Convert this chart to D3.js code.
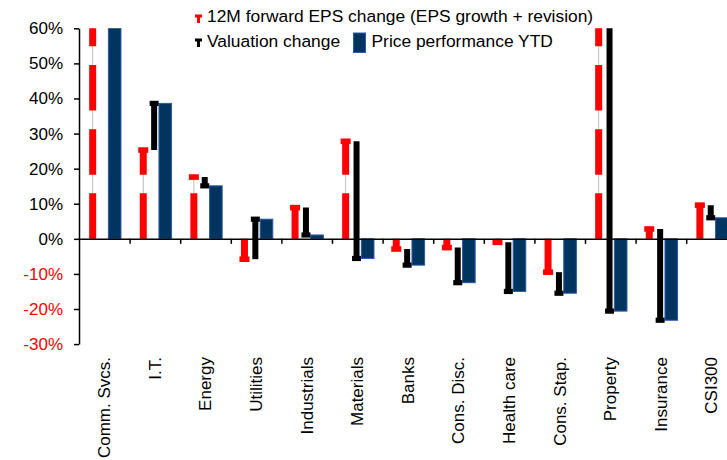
<!DOCTYPE html>
<html>
<head>
<meta charset="utf-8">
<script src="https://cdn.jsdelivr.net/npm/d3@7"></script>
<style>
  body { margin: 0; background: #fff; }
  text { font-family: "Liberation Sans", Arial, sans-serif; }
</style>
</head>
<body>
<div id="my_dataviz"></div>
<script>
// sector data, in %
var categories = ["Comm. Svcs.", "I.T.", "Energy", "Utilities", "Industrials", "Materials", "Banks",
                  "Cons. Disc.", "Health care", "Cons. Stap.", "Property", "Insurance", "CSI300"];
var epsChange = [75, 25.3, 17.6, -5.8, 8.9, 27.8, -2.9, -2.5, -1.0, -9.5, 82, 2.8, 9.6];
var valuationChange = [-7, 13.3, -2.5, 11.4, -7.8, -33.4, -4.6, -10.0, -14.0, -6.0, -102.6, -26.0, -3.6];
var pricePerf = [68, 38.6, 15.1, 5.6, 1.1, -5.6, -7.5, -12.5, -15.0, -15.5, -20.6, -23.2, 6.0];
var yTicks = [-30, -20, -10, 0, 10, 20, 30, 40, 50, 60];

var W = 727, H = 460;
var left = 79, bandW = 50.6;

var svg = d3.select("#my_dataviz")
  .append("svg")
  .attr("width", W)
  .attr("height", H);

// scales
var y = d3.scaleLinear().domain([-30, 60]).range([344.1, 28.3]);
var x = d3.scaleBand().domain(categories).range([left, left + bandW * categories.length]).padding(0);
var xi = d3.scaleLinear().domain([0, categories.length]).range(x.range());

// clip at the top of the plot
svg.append("clipPath").attr("id", "plotclip")
  .append("rect").attr("x", left).attr("y", y(60)).attr("width", W).attr("height", H);

var plot = svg.append("g").attr("clip-path", "url(#plotclip)");

var rows = categories.map(function (c, i) {
  return { cat: c, eps: epsChange[i], val: valuationChange[i], end: epsChange[i] + valuationChange[i], price: pricePerf[i] };
});

// price bars
var bw = x.bandwidth();
plot.selectAll(".price").data(rows).enter().append("rect")
  .attr("x", function (d) { return x(d.cat) + bw * 0.705 - 6.3; })
  .attr("width", 12.6)
  .attr("y", function (d) { return y(Math.max(0, d.price)); })
  .attr("height", function (d) { return Math.abs(y(d.price) - y(0)); })
  .attr("fill", "#023460")
  .attr("stroke", "#2b5aa8")
  .attr("stroke-width", 1);

// thin grey line behind the eps bar
plot.selectAll(".hl").data(rows).enter().append("line")
  .attr("x1", function (d) { return x(d.cat) + bw * 0.27; })
  .attr("x2", function (d) { return x(d.cat) + bw * 0.27; })
  .attr("y1", y(0))
  .attr("y2", function (d) { return y(d.eps); })
  .attr("stroke", "#bdbdbd")
  .attr("stroke-width", 1);

// eps change: thick dashed red
plot.selectAll(".eps").data(rows).enter().append("line")
  .attr("x1", function (d) { return x(d.cat) + bw * 0.27; })
  .attr("x2", function (d) { return x(d.cat) + bw * 0.27; })
  .attr("y1", y(0))
  .attr("y2", function (d) { return y(d.eps); })
  .attr("stroke", "#ff0000")
  .attr("stroke-width", 7)
  .attr("stroke-dasharray", "45.5 18.7");

plot.selectAll(".epscap").data(rows).enter().append("rect")
  .attr("x", function (d) { return x(d.cat) + bw * 0.27 - 5; })
  .attr("y", function (d) { return y(d.eps) - 2.8; })
  .attr("width", 10)
  .attr("height", 5.6)
  .attr("fill", "#ff0000");

// valuation change: black
plot.selectAll(".val").data(rows).enter().append("line")
  .attr("x1", function (d) { return x(d.cat) + bw * 0.485; })
  .attr("x2", function (d) { return x(d.cat) + bw * 0.485; })
  .attr("y1", function (d) { return y(d.eps); })
  .attr("y2", function (d) { return y(d.end); })
  .attr("stroke", "#000")
  .attr("stroke-width", 6);

plot.selectAll(".valcap").data(rows).enter().append("rect")
  .attr("x", function (d) { return x(d.cat) + bw * 0.485 - 4.5; })
  .attr("y", function (d) { return y(d.end) - 2.6; })
  .attr("width", 9)
  .attr("height", 5.2)
  .attr("fill", "#000");

// x axis at 0 with ticks between sectors
var xAxis = svg.append("g")
  .attr("transform", "translate(0," + y(0) + ")")
  .call(d3.axisBottom(xi).tickValues(d3.range(1, categories.length)).tickSize(5).tickSizeOuter(0).tickFormat(""));
xAxis.select(".domain").attr("stroke-width", 1.5);
xAxis.selectAll(".tick line").attr("stroke-width", 1.5);

// y axis
var yAxis = svg.append("g")
  .attr("transform", "translate(" + left + ",0)")
  .call(d3.axisLeft(y).tickValues(yTicks).tickSize(5).tickSizeOuter(0).tickPadding(11)
    .tickFormat(function (d) { return d + "%"; }));
yAxis.select(".domain").attr("stroke-width", 1.5);
yAxis.selectAll(".tick line").attr("stroke-width", 1.5);
yAxis.selectAll(".tick text")
  .style("font-size", "17px")
  .style("font-family", "Liberation Sans, Arial, sans-serif")
  .attr("fill", function (d) { return d < 0 ? "#ff0000" : "#000"; });

// category labels
svg.selectAll(".cat").data(categories).enter().append("text")
  .attr("transform", function (d) { return "translate(" + (x(d) + bw / 2) + ",357) rotate(-90)"; })
  .attr("dy", "0.35em")
  .attr("text-anchor", "end")
  .style("font-size", "17px")
  .text(function (d) { return d; });

// legend
var tMark = "M-3.5,0 h7 v3 h-2 v5.5 h-3 v-5.5 h-2 z";
svg.append("path").attr("d", tMark).attr("transform", "translate(198.5,14.5)").attr("fill", "#ff0000");
svg.append("text").attr("x", 207).attr("y", 21.5).style("font-size", "17.4px").text("12M forward EPS change (EPS growth + revision)");
svg.append("path").attr("d", tMark).attr("transform", "translate(198.5,38.5)").attr("fill", "#000");
svg.append("text").attr("x", 207).attr("y", 46.5).style("font-size", "17.4px").text("Valuation change");
svg.append("rect").attr("x", 353.5).attr("y", 33).attr("width", 12).attr("height", 19.5)
  .attr("fill", "#023460").attr("stroke", "#2b5aa8").attr("stroke-width", 1);
svg.append("text").attr("x", 371.5).attr("y", 46.5).style("font-size", "17.4px").text("Price performance YTD");
</script>
</body>
</html>
